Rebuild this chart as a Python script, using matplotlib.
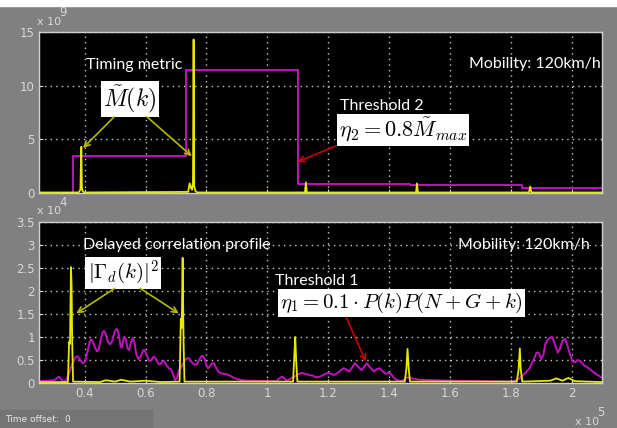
import matplotlib.pyplot as plt
from matplotlib.patches import Rectangle

# eje x en unidades de 1e5 muestras
xlim = (0.25, 2.1)

# Panel superior: métrica de temporización (y en unidades de 1e9)
umbral_x = [0.25, 0.363, 0.733, 1.101, 1.469, 1.837, 2.1]
umbral_y = [0.0, 3.42, 11.43, 0.87, 0.72, 0.49, 0.49]

metrica_x = [0.25, 0.380, 0.386, 0.389, 0.391, 0.393, 0.398,
             0.740, 0.745, 0.749, 0.753, 0.756, 0.758, 0.760, 0.764, 0.770,
             1.124, 1.127, 1.130, 1.489, 1.492, 1.495,
             1.860, 1.864, 1.868, 2.1]
metrica_y = [0.05, 0.05, 0.3, 4.3, 0.5, 0.2, 0.05,
             0.1, 0.9, 0.5, 0.3, 1.0, 14.3, 0.6, 0.2, 0.05,
             0.05, 1.0, 0.05, 0.05, 0.9, 0.05,
             0.05, 0.6, 0.05, 0.05]

# Panel inferior (y en unidades de 1e4): pares (x, y)
correlacion = [
    (0.25, 0.02), (0.345, 0.02), (0.349, 0.9), (0.352, 0.85), (0.355, 2.52),
    (0.357, 2.15), (0.359, 0.9), (0.362, 0.03), (0.45, 0.02), (0.47, 0.06),
    (0.50, 0.03), (0.52, 0.07), (0.55, 0.03), (0.60, 0.05), (0.65, 0.02),
    (0.712, 0.03), (0.716, 1.4), (0.719, 1.2), (0.722, 2.72), (0.725, 0.9),
    (0.728, 0.03), (1.085, 0.03), (1.089, 0.6), (1.092, 1.0), (1.095, 0.5),
    (1.099, 0.03), (1.452, 0.03), (1.457, 0.3), (1.461, 0.74), (1.465, 0.3),
    (1.469, 0.03), (1.820, 0.03), (1.826, 0.3), (1.830, 0.75), (1.833, 0.3),
    (1.838, 0.03), (1.93, 0.05), (1.95, 0.1), (1.97, 0.05), (1.99, 0.11),
    (2.01, 0.04), (2.1, 0.02),
]

umbral1 = [
    (0.25, 0.04), (0.28, 0.05), (0.30, 0.06), (0.308, 0.10), (0.316, 0.14),
    (0.324, 0.07), (0.332, 0.02), (0.340, 0.08), (0.348, 0.20), (0.356, 0.35),
    (0.362, 0.45), (0.368, 0.54), (0.373, 0.58), (0.378, 0.57), (0.383, 0.52),
    (0.390, 0.46), (0.396, 0.43), (0.402, 0.48), (0.410, 0.70), (0.416, 0.88),
    (0.421, 0.95), (0.426, 0.92), (0.432, 0.80), (0.440, 0.69), (0.446, 0.72),
    (0.453, 0.95), (0.459, 1.10), (0.464, 1.13), (0.469, 1.07), (0.476, 0.90),
    (0.483, 0.84), (0.490, 0.90), (0.497, 1.08), (0.503, 1.17), (0.508, 1.16),
    (0.513, 1.02), (0.518, 0.80), (0.522, 0.77), (0.526, 0.90), (0.530, 1.00),
    (0.535, 0.96), (0.541, 0.75), (0.546, 0.72), (0.552, 0.88), (0.558, 0.98),
    (0.563, 0.90), (0.570, 0.62), (0.577, 0.52), (0.584, 0.58), (0.592, 0.71),
    (0.597, 0.72), (0.604, 0.60), (0.612, 0.48), (0.619, 0.50), (0.626, 0.57),
    (0.632, 0.55), (0.640, 0.44), (0.647, 0.40), (0.655, 0.46), (0.661, 0.48),
    (0.668, 0.40), (0.676, 0.32), (0.684, 0.30), (0.690, 0.20), (0.697, 0.06),
    (0.703, 0.10), (0.710, 0.28), (0.716, 0.33), (0.722, 0.40), (0.730, 0.50),
    (0.737, 0.54), (0.744, 0.53), (0.752, 0.45), (0.760, 0.40), (0.768, 0.40),
    (0.776, 0.50), (0.783, 0.58), (0.789, 0.59), (0.795, 0.52), (0.800, 0.38),
    (0.806, 0.32), (0.812, 0.36), (0.819, 0.43), (0.825, 0.43), (0.832, 0.33),
    (0.840, 0.24), (0.848, 0.21), (0.858, 0.20), (0.866, 0.19), (0.875, 0.17),
    (0.885, 0.13), (0.895, 0.10), (0.910, 0.07), (0.93, 0.05), (1.03, 0.04),
    (1.040, 0.10), (1.048, 0.14), (1.056, 0.10), (1.065, 0.05), (1.075, 0.09),
    (1.087, 0.13), (1.100, 0.18), (1.113, 0.22), (1.125, 0.20), (1.14, 0.17),
    (1.150, 0.16), (1.160, 0.12), (1.174, 0.14), (1.188, 0.19), (1.201, 0.22),
    (1.210, 0.20), (1.22, 0.17), (1.235, 0.24), (1.25, 0.32), (1.26, 0.29),
    (1.27, 0.25), (1.280, 0.35), (1.288, 0.43), (1.298, 0.36), (1.31, 0.28),
    (1.318, 0.35), (1.327, 0.43), (1.338, 0.34), (1.35, 0.25), (1.36, 0.30),
    (1.37, 0.32), (1.38, 0.25), (1.39, 0.20), (1.397, 0.22), (1.405, 0.21),
    (1.415, 0.12), (1.425, 0.07), (1.44, 0.04), (1.452, 0.08), (1.46, 0.12),
    (1.475, 0.10), (1.50, 0.07), (1.60, 0.05), (1.70, 0.04), (1.806, 0.03),
    (1.818, 0.06), (1.829, 0.10), (1.845, 0.20), (1.862, 0.32), (1.875, 0.50),
    (1.885, 0.66), (1.892, 0.66), (1.90, 0.52), (1.907, 0.60), (1.914, 0.85),
    (1.920, 0.93), (1.928, 0.98), (1.937, 1.00), (1.945, 0.85), (1.955, 0.66),
    (1.962, 0.75), (1.970, 0.92), (1.979, 0.96), (1.986, 0.82), (1.995, 0.62),
    (2.003, 0.47), (2.012, 0.45), (2.020, 0.50), (2.028, 0.48), (2.04, 0.39),
    (2.052, 0.34), (2.064, 0.28), (2.075, 0.22), (2.086, 0.17), (2.1, 0.12),
]

xticks = [0.4, 0.6, 0.8, 1.0, 1.2, 1.4, 1.6, 1.8, 2.0]
xtick_labels = ['0.4', '0.6', '0.8', '1', '1.2', '1.4', '1.6', '1.8', '2']
yticks_sup = [0, 5, 10, 15]
yticks_inf = [0, 0.5, 1, 1.5, 2, 2.5, 3, 3.5]
ytick_labels_inf = ['0', '0.5', '1', '1.5', '2', '2.5', '3', '3.5']

# Estilo
gris = '#808080'
magenta = '#c010c0'
amarillo = '#e8e800'
flecha_am = '#b8b800'
texto_ejes = '#d8d8d8'
plt.rcParams['mathtext.fontset'] = 'cm'
fuente_ejes = ['Liberation Sans Narrow', 'DejaVu Sans']
fuente_notas = ['Lato', 'DejaVu Sans']

W, H = 617, 428
fig = plt.figure(figsize=(W / 100, H / 100), dpi=100)
fig.patch.set_facecolor(gris)
fig.patches.append(Rectangle((0, 1 - 6 / H), 1, 6 / H, transform=fig.transFigure,
                             color='white', zorder=0))

ax1 = fig.add_axes([39 / W, 1 - 193 / H, 563 / W, 161 / H])
ax2 = fig.add_axes([39 / W, 1 - 383 / H, 563 / W, 161 / H])


def estilo(ax, yticks, ylabels, xlabels):
    ax.set_facecolor('black')
    ax.set_xlim(*xlim)
    ax.set_xticks(xticks)
    ax.set_xticklabels(xlabels if xlabels else [])
    ax.set_yticks(yticks)
    ax.set_yticklabels(ylabels)
    ax.set_ylim(yticks[0], yticks[-1])
    ax.grid(True, color='#c8c8c8', linestyle=(0, (1, 3)), linewidth=1)
    ax.tick_params(colors=texto_ejes, direction='in', length=3, labelsize=8.5, pad=3)
    for lab in ax.get_xticklabels() + ax.get_yticklabels():
        lab.set_family(fuente_ejes)
        lab.set_color(texto_ejes)
    for s in ax.spines.values():
        s.set_color('#d0d0d0')
        s.set_linewidth(1)


estilo(ax1, yticks_sup, [str(v) for v in yticks_sup], None)
estilo(ax2, yticks_inf, ytick_labels_inf, xtick_labels)

ax1.step(umbral_x, umbral_y, where='post', color=magenta, lw=1.4)
ax1.plot(metrica_x, metrica_y, color=amarillo, lw=1.3)
ax2.plot(*zip(*umbral1), color=magenta, lw=1.4)
ax2.plot(*zip(*correlacion), color=amarillo, lw=1.3)

caja = dict(boxstyle='square,pad=0.1', fc='white', ec='none')
nota = dict(color='white', fontsize=11.5, family=fuente_notas)

# Panel superior: anotaciones
ax1.text(0.404, 11.9, 'Timing metric', ha='left', va='center', **nota)
ax1.text(0.549, 8.76, r'$\tilde{M}(k)$', ha='center', va='center', fontsize=17,
         color='black', bbox=caja)
for xt, yt, xs, ys in [(0.388, 4.0, 0.503, 7.27), (0.759, 3.26, 0.598, 7.27)]:
    ax1.annotate('', xy=(xt, yt), xytext=(xs, ys),
                 arrowprops=dict(arrowstyle='->', color=flecha_am, lw=1.2))
ax1.text(1.239, 8.1, 'Threshold 2', ha='left', va='center', **nota)
ax1.text(1.446, 5.87, r'$\eta_2 = 0.8\tilde{M}_{max}$', ha='center', va='center',
         fontsize=16, color='black', bbox=caja)
ax1.annotate('', xy=(1.091, 2.8), xytext=(1.233, 4.47),
             arrowprops=dict(arrowstyle='->', color='#d00000', lw=1.2))
ax1.text(0.998, 0.8, 'Mobility: 120km/h', transform=ax1.transAxes,
         ha='right', va='center', **nota)

# Panel inferior: anotaciones
ax2.text(0.3946, 3.0, 'Delayed correlation profile', ha='left', va='center', **nota)
ax2.text(0.526, 2.39, r'$|\Gamma_d(k)|^2$', ha='center', va='center', fontsize=15,
         color='black', bbox=caja)
for xt, yt, xs, ys in [(0.365, 1.48, 0.506, 2.09), (0.717, 1.48, 0.575, 2.09)]:
    ax2.annotate('', xy=(xt, yt), xytext=(xs, ys),
                 arrowprops=dict(arrowstyle='->', color=flecha_am, lw=1.2))
ax2.text(1.026, 2.22, 'Threshold 1', ha='left', va='center', **nota)
ax2.text(1.44, 1.74, r'$\eta_1 = 0.1\cdot P(k)P(N+G+k)$', ha='center', va='center',
         fontsize=15, color='black', bbox=caja)
ax2.annotate('', xy=(1.328, 0.41), xytext=(1.256, 1.48),
             arrowprops=dict(arrowstyle='->', color='#d00000', lw=1.2))
ax2.text(2.06, 3.0, 'Mobility: 120km/h', ha='right', va='center', **nota)


# Factores de escala estilo MATLAB
def escala(px, py, exp):
    fig.text(px / W, 1 - py / H, 'x 10', color=texto_ejes, fontsize=8,
             family=fuente_ejes, ha='left', va='center')
    fig.text((px + 22) / W, 1 - (py - 9) / H, exp, color=texto_ejes, fontsize=8.5,
             family=fuente_ejes, ha='left', va='center')


escala(37, 22, '9')
escala(37, 211, '4')
escala(575, 422, '5')

# Barra inferior "Time offset"
fig.patches.append(Rectangle((0, 0), 152 / W, 18 / H, transform=fig.transFigure,
                             color='#747474', zorder=0))
fig.text(5 / W, 1 - 419 / H, 'Time offset:', color='#e8e8e8', fontsize=6.5,
         family=fuente_ejes, va='center')
fig.text(64 / W, 1 - 419 / H, '0', color='#e8e8e8', fontsize=6.5,
         family=fuente_ejes, va='center')

fig.savefig('out.png', dpi=100, facecolor=fig.get_facecolor())
